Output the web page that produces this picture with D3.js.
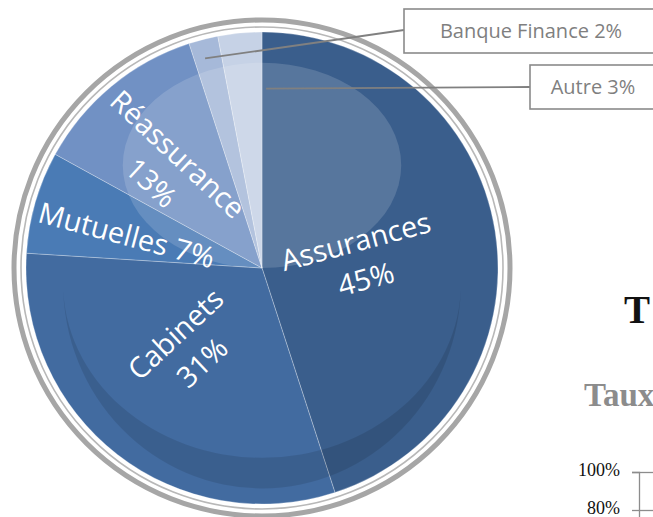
<!DOCTYPE html>
<html>
<head>
<meta charset="utf-8">
<script src="https://cdn.jsdelivr.net/npm/d3@7"></script>
<style>
  body { margin: 0; background: #fff; }
  svg { display: block; }
</style>
</head>
<body>
<div class="chart"></div>
<script>
// pie values (slice sizes, printed percentages as shown)
var categories = ["Assurances", "Cabinets", "Mutuelles", "Réassurance", "Banque Finance", "Autre"];
var shares = [45, 31, 7, 12, 2, 3];
var pctLabels = ["45%", "31%", "7%", "13%", "2%", "3%"];
var sliceColors = ["#3a5e8c", "#426ba0", "#4a7bb5", "#7191c4", "#a6b9d9", "#c6d2e6"];

// partial second chart on the right (only its top is visible)
var sideTitle = "T";
var sideSubtitle = "Taux";
var sideTicks = [1, 0.8];

var width = 653,
    height = 517,
    cx = 262,
    cy = 268,
    radius = 236;

var svg = d3.select(".chart")
    .append("svg")
    .attr("width", width)
    .attr("height", height);

// rings round the pie
svg.append("circle")
    .attr("cx", cx).attr("cy", cy).attr("r", radius + 12)
    .style("fill", "none").style("stroke", "#a6a6a6").style("stroke-width", 5);
svg.append("circle")
    .attr("cx", cx).attr("cy", cy).attr("r", radius + 5)
    .style("fill", "none").style("stroke", "#b8b8b8").style("stroke-width", 1.6);

var pie = d3.pie().sort(null).value(function(d) { return d; });
var arcs = pie(shares);

var arc = d3.arc().innerRadius(0).outerRadius(radius);

var g = svg.append("g").attr("transform", "translate(" + cx + "," + cy + ")");

g.selectAll("path.slice")
    .data(arcs)
    .enter()
    .append("path")
    .attr("class", "slice")
    .attr("d", arc)
    .style("fill", function(d, i) { return sliceColors[i]; })
    .style("stroke", "rgba(255,255,255,0.35)")
    .style("stroke-width", 0.8);

// glossy highlight at the top
g.append("ellipse")
    .attr("cx", 0)
    .attr("cy", -0.435 * radius)
    .attr("rx", 0.59 * radius)
    .attr("ry", 0.435 * radius)
    .style("fill", "#fff")
    .style("opacity", 0.15);

// darker crescent at the bottom
var sx = 0.843 * radius, sy = 0.064 * radius;
g.append("path")
    .attr("d", "M" + (-sx) + "," + sy +
        " A" + sx + "," + (0.87 * radius) + " 0 0 0 " + sx + "," + sy +
        " A" + sx + "," + (0.74 * radius) + " 0 0 1 " + (-sx) + "," + sy + " Z")
    .style("fill", "#000")
    .style("opacity", 0.11);

// labels inside the slices
var inLabels = {
    "Assurances": { r: 0.42, da: 4.4, rot: -15, split: true },
    "Cabinets": { r: 0.46, da: 4.6, rot: -43, split: true },
    "Mutuelles": { r: 0.59, da: -2.5, rot: 15, split: false },
    "Réassurance": { r: 0.59, da: -4.8, rot: 43, split: true }
};

function polar(angle, r) {
    return [r * Math.sin(angle), -r * Math.cos(angle)];
}

arcs.forEach(function(d, i) {
    var name = categories[i];
    var lay = inLabels[name];
    if (!lay) return;
    var mid = (d.startAngle + d.endAngle) / 2 + lay.da * Math.PI / 180;
    var p = polar(mid, lay.r * radius);
    var lines = lay.split ? [name, pctLabels[i]] : [name + " " + pctLabels[i]];
    var t = g.append("g")
        .attr("transform", "translate(" + p[0] + "," + p[1] + ") rotate(" + lay.rot + ")");
    lines.forEach(function(line, k) {
        t.append("text")
            .attr("x", 0)
            .attr("y", (k - (lines.length - 1) / 2) * 39)
            .attr("dy", "0.36em")
            .attr("text-anchor", "middle")
            .style("font-family", "'Open Sans', sans-serif")
            .style("font-size", "29px")
            .style("fill", "#fff")
            .text(line);
    });
});

// callouts for the two small slices
var callouts = {
    "Banque Finance": { r: 0.92, da: -0.8, box: [404, 9, 254, 44] },
    "Autre": { r: 0.76, da: 6.7, box: [530, 65, 126, 44] }
};

arcs.forEach(function(d, i) {
    var name = categories[i];
    var c = callouts[name];
    if (!c) return;
    var mid = (d.startAngle + d.endAngle) / 2 + c.da * Math.PI / 180;
    var p = polar(mid, c.r * radius);
    var b = c.box;

    svg.append("line")
        .attr("x1", cx + p[0])
        .attr("y1", cy + p[1])
        .attr("x2", b[0])
        .attr("y2", b[1] + b[3] / 2 - (name == "Autre" ? 0 : 1))
        .style("stroke", "#808080")
        .style("stroke-width", 1.8);

    svg.append("rect")
        .attr("x", b[0])
        .attr("y", b[1])
        .attr("width", b[2])
        .attr("height", b[3])
        .style("fill", "#fff")
        .style("stroke", "#8a8a8a")
        .style("stroke-width", 1.6);

    svg.append("text")
        .attr("x", b[0] + b[2] / 2)
        .attr("y", b[1] + b[3] / 2)
        .attr("dy", "0.36em")
        .attr("text-anchor", "middle")
        .style("font-family", "'Open Sans', sans-serif")
        .style("font-size", "20px")
        .style("fill", "#7f7f7f")
        .text(name + " " + pctLabels[i]);
});

// the next chart, cut by the right edge
svg.append("text")
    .attr("x", 624)
    .attr("y", 323)
    .style("font-family", "'Liberation Serif', serif")
    .style("font-weight", "bold")
    .style("font-size", "39px")
    .style("fill", "#111")
    .text(sideTitle);

svg.append("text")
    .attr("x", 584)
    .attr("y", 406)
    .style("font-family", "'Liberation Serif', serif")
    .style("font-weight", "bold")
    .style("font-size", "33px")
    .style("fill", "#8c8c8c")
    .text(sideSubtitle);

var y = d3.scaleLinear()
    .domain([0, 1])
    .range([662, 472]);

var yAxis = svg.append("g")
    .attr("transform", "translate(639,0)")
    .call(d3.axisLeft(y)
        .tickValues(sideTicks)
        .tickFormat(d3.format(".0%"))
        .tickSizeOuter(0)
        .tickSize(7));

yAxis.select(".domain").style("stroke", "#8c8c8c").style("stroke-width", 1.3);
yAxis.selectAll(".tick line")
    .attr("x1", -7)
    .attr("x2", 20)
    .style("stroke", "#8c8c8c")
    .style("stroke-width", 1.3);
yAxis.selectAll(".tick text")
    .attr("x", -19)
    .attr("dy", "0.22em")
    .style("font-family", "'Liberation Serif', serif")
    .style("font-size", "18px")
    .style("fill", "#111");
</script>
</body>
</html>
